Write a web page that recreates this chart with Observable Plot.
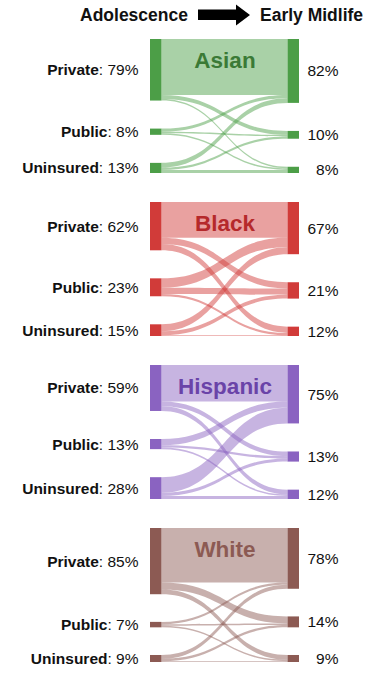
<!DOCTYPE html>
<html><head><meta charset="utf-8">
<script src="https://cdn.jsdelivr.net/npm/d3@7"></script>
<script src="https://cdn.jsdelivr.net/npm/@observablehq/plot@0.6"></script>
<style>
body{margin:0;background:#fff;font-family:"Liberation Sans",Arial,Helvetica,sans-serif;color:#111;}
#header{position:relative;height:30px;width:381px;}
#header span{position:absolute;top:4px;line-height:22px;font-weight:bold;font-size:17.5px;}
#header svg{position:absolute;left:198px;top:4px;}
#chart svg{display:block;}
</style></head><body>
<div id="header">
  <span style="left:80px">Adolescence</span>
  <svg width="53" height="22" viewBox="0 0 53 22"><polygon points="0,5.5 38,5.5 38,0.5 52,11 38,21.5 38,16 0,16" fill="#000"/></svg>
  <span style="left:260px">Early Midlife</span>
</div>
<div id="chart"></div>
<script>
// ---- data ----
const groups = ["Asian", "Black", "Hispanic", "White"];
const statuses = ["Private", "Public", "Uninsured"];
// labels printed in the figure (percent)
const adolescencePct = [[79, 8, 13], [62, 23, 15], [59, 13, 28], [85, 7, 9]];
const midlifePct = [[82, 10, 8], [67, 21, 12], [75, 13, 12], [78, 14, 9]];
// estimated flows: rows = adolescence status, cols = early-midlife status
const asianFlows = [[72, 5, 2], [4, 2, 2], [6, 3, 4]];
const blackFlows = [[46, 8, 8], [12, 8, 3], [9, 5, 1]];
const hispanicFlows = [[47, 6, 6], [8, 3, 2], [20, 4, 4]];
const whiteFlows = [[70, 9, 6], [3, 2, 2], [5, 3, 1]];
const nodeColors = ["#4c9e47", "#d13b39", "#8a63c1", "#8c5a53"];
const nameColors = ["#3b7a36", "#b5292b", "#6a43a8", "#8c5a53"];

// ---- layout (computed) ----
const flowSets = [asianFlows, blackFlows, hispanicFlows, whiteFlows];
const D = 172;           // y extent of one panel, in percent units
const nodeW = 0.077;     // node width in x units
const nodes = [], links = [], leftLabels = [], rightLabels = [], names = [];

groups.forEach((g, gi) => {
  const F = flowSets[gi];
  const L = F.map(r => d3.sum(r));
  const R = [0, 1, 2].map(j => d3.sum(F, r => r[j]));
  const place = (sizes) => {
    const gap = (D - d3.sum(sizes)) / 2;
    let y = 0;
    return sizes.map(s => { const t = y; y += s + gap; return t; });
  };
  const LT = place(L), RT = place(R);
  statuses.forEach((s, i) => {
    nodes.push({group: g, x1: 0, x2: nodeW, y1: LT[i], y2: LT[i] + L[i], color: nodeColors[gi]});
    nodes.push({group: g, x1: 1 - nodeW, x2: 1, y1: RT[i], y2: RT[i] + R[i], color: nodeColors[gi]});
    leftLabels.push({group: g, x: 0, y: LT[i] + L[i] / 2, text: `${s}: ${adolescencePct[gi][i]}%`});
    rightLabels.push({group: g, x: 1, y: RT[i] + R[i] / 2, text: `${midlifePct[gi][i]}%`});
  });
  const sOff = LT.slice(), tOff = RT.slice();
  const srcStart = [], tgtStart = [];
  for (let i = 0; i < 3; i++) { srcStart[i] = []; for (let j = 0; j < 3; j++) { srcStart[i][j] = sOff[i]; sOff[i] += F[i][j]; } }
  for (let j = 0; j < 3; j++) { tgtStart[j] = []; for (let i = 0; i < 3; i++) { tgtStart[j][i] = tOff[j]; tOff[j] += F[i][j]; } }
  for (let i = 0; i < 3; i++) for (let j = 0; j < 3; j++) {
    const v = F[i][j]; if (!v) continue;
    const id = `${g}-${i}-${j}`;
    links.push({group: g, id, x: nodeW, y1: srcStart[i][j], y2: srcStart[i][j] + v, color: nodeColors[gi]});
    links.push({group: g, id, x: 1 - nodeW, y1: tgtStart[j][i], y2: tgtStart[j][i] + v, color: nodeColors[gi]});
  }
  names.push({group: g, x: 0.5, y: 0, text: g, color: nameColors[gi]});
});

const chart = Plot.plot({
  width: 381,
  height: 643,
  marginLeft: 150,
  marginRight: 82,
  marginTop: 9,
  marginBottom: 11,
  style: {fontFamily: '"Liberation Sans", Arial, Helvetica, sans-serif', background: "#fff", color: "#111"},
  x: {domain: [0, 1], axis: null},
  y: {domain: [0, D], reverse: true, axis: null},
  fy: {domain: groups, axis: null, paddingInner: 29 / 163, paddingOuter: 0},
  color: {type: "identity"},
  marks: [
    Plot.area(links, {x1: "x", y1: "y1", y2: "y2", z: "id", fy: "group", curve: "bump-x", fill: "color", fillOpacity: 0.48}),
    Plot.rect(nodes, {x1: "x1", x2: "x2", y1: "y1", y2: "y2", fy: "group", fill: "color"}),
    Plot.text(names, {x: "x", y: "y", dy: 21, fy: "group", text: "text", fill: "color", fontWeight: "bold", fontSize: 22.5}),
    Plot.text(leftLabels, {x: "x", y: "y", dx: -12, fy: "group", text: "text", textAnchor: "end", fontSize: 15.5, fill: "#111"}),
    Plot.text(rightLabels, {x: "x", y: "y", dx: 39, fy: "group", text: "text", textAnchor: "end", fontSize: 15.5, fill: "#111"})
  ]
});
document.getElementById("chart").appendChild(chart);

// bold the status word in left labels
chart.querySelectorAll("text").forEach(t => {
  const s = t.textContent, k = s.indexOf(":");
  if (k < 0) return;
  while (t.firstChild) t.removeChild(t.firstChild);
  const a = document.createElementNS("http://www.w3.org/2000/svg", "tspan");
  a.setAttribute("font-weight", "bold"); a.style.fontWeight = "bold"; a.textContent = s.slice(0, k);
  const b = document.createElementNS("http://www.w3.org/2000/svg", "tspan");
  b.textContent = s.slice(k);
  t.appendChild(a); t.appendChild(b);
});
</script>
</body></html>
